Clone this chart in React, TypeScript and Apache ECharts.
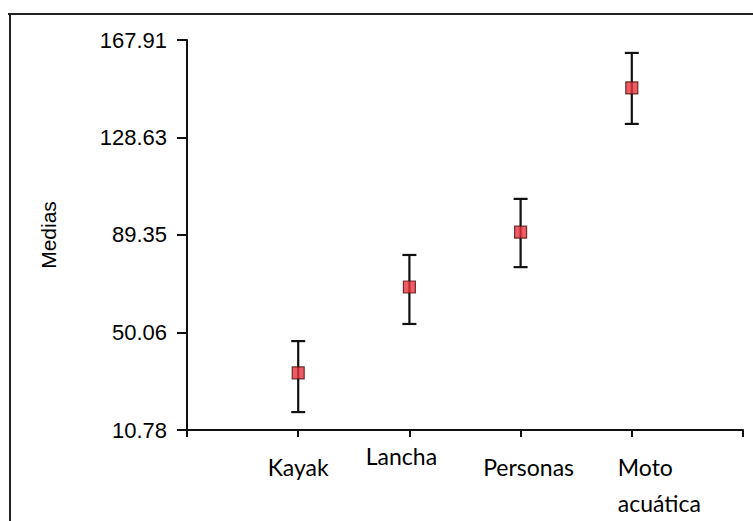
import React, { useEffect, useRef } from "react";
import * as echarts from "echarts";

const categories = ["Kayak", "Lancha", "Personas", "Moto\nacuática"];
const means = [33.8, 68.4, 90.5, 148.6];
const lowers = [18.0, 53.5, 76.4, 134.1];
const uppers = [46.6, 81.3, 103.9, 162.7];
const yTicks = [10.78, 50.06, 89.35, 128.63, 167.91];
const xPositions = [1, 2, 3, 4];

// label layout tweaks (pixel offsets relative to each category tick)
const labelDx = [0, -8, 8, -14];
const labelDy = [37, 26, 37, 55];
const labelAlign = ["center", "center", "center", "left"];

export default function App() {
  const ref = useRef<HTMLDivElement>(null);
  useEffect(() => {
    const chart = echarts.init(ref.current!, undefined, { renderer: "svg" });
    const option: any = {
      animation: false,
      backgroundColor: "#ffffff",
      grid: { left: 187, right: 10, top: 40, bottom: 91 },
      xAxis: {
        type: "value",
        min: 0,
        max: 5,
        splitLine: { show: false },
        axisLine: { show: true, lineStyle: { color: "#111", width: 2 } },
        axisTick: { show: true, length: 7, customValues: [0, 1, 2, 3, 4, 5], lineStyle: { color: "#111", width: 2 } },
        axisLabel: { show: false },
      },
      yAxis: {
        type: "value",
        min: yTicks[0],
        max: yTicks[yTicks.length - 1],
        name: "Medias",
        nameLocation: "middle",
        nameGap: 128,
        nameRotate: 90,
        nameTextStyle: { fontFamily: "Liberation Sans, Arial", fontSize: 21, color: "#000" },
        splitLine: { show: false },
        axisLine: { show: true, lineStyle: { color: "#111", width: 2 } },
        axisTick: { show: true, length: 10, customValues: yTicks, lineStyle: { color: "#111", width: 2 } },
        axisLabel: {
          customValues: yTicks,
          formatter: (v: number) => v.toFixed(2),
          fontFamily: "Liberation Sans, Arial",
          fontSize: 22,
          color: "#000",
          margin: 20,
        },
      },
      series: [
        {
          type: "custom",
          data: xPositions.map((x, i) => [x, lowers[i], uppers[i]]),
          renderItem: (params: any, api: any) => {
            const x = api.value(0);
            const lo = api.coord([x, api.value(1)]);
            const hi = api.coord([x, api.value(2)]);
            const w = 7;
            const style = { stroke: "#111", lineWidth: 2.2 };
            return {
              type: "group",
              children: [
                { type: "line", shape: { x1: lo[0], y1: lo[1], x2: hi[0], y2: hi[1] }, style },
                { type: "line", shape: { x1: lo[0] - w, y1: lo[1], x2: lo[0] + w, y2: lo[1] }, style },
                { type: "line", shape: { x1: hi[0] - w, y1: hi[1], x2: hi[0] + w, y2: hi[1] }, style },
              ],
            };
          },
          z: 2,
        },
        {
          type: "scatter",
          data: xPositions.map((x, i) => [x, means[i]]),
          symbol: "rect",
          symbolSize: 12,
          itemStyle: { color: "#e8323f", borderColor: "#4a1010", borderWidth: 1.2 },
          z: 3,
        },
      ],
    };
    chart.setOption(option);
    const graphics: any[] = [
      { type: "line", shape: { x1: 8, y1: 14, x2: 753, y2: 14 }, style: { stroke: "#222", lineWidth: 2 } },
      { type: "line", shape: { x1: 10, y1: 14, x2: 10, y2: 521 }, style: { stroke: "#222", lineWidth: 2 } },
    ];
    const y0 = chart.convertToPixel({ yAxisIndex: 0 }, yTicks[0]) as number;
    categories.forEach((c, i) => {
      const px = chart.convertToPixel({ xAxisIndex: 0 }, xPositions[i]) as number;
      graphics.push({
        type: "text",
        x: px + labelDx[i],
        y: y0 + labelDy[i],
        style: {
          text: c,
          fontFamily: "Lato",
          fontSize: 23,
          fill: "#000",
          align: labelAlign[i],
          verticalAlign: "middle",
          lineHeight: 36,
        },
      });
    });
    chart.setOption({ graphic: graphics });
    return () => chart.dispose();
  }, []);
  return <div ref={ref} style={{ width: 753, height: 521, position: "absolute", left: 0, top: 0 }} />;
}
